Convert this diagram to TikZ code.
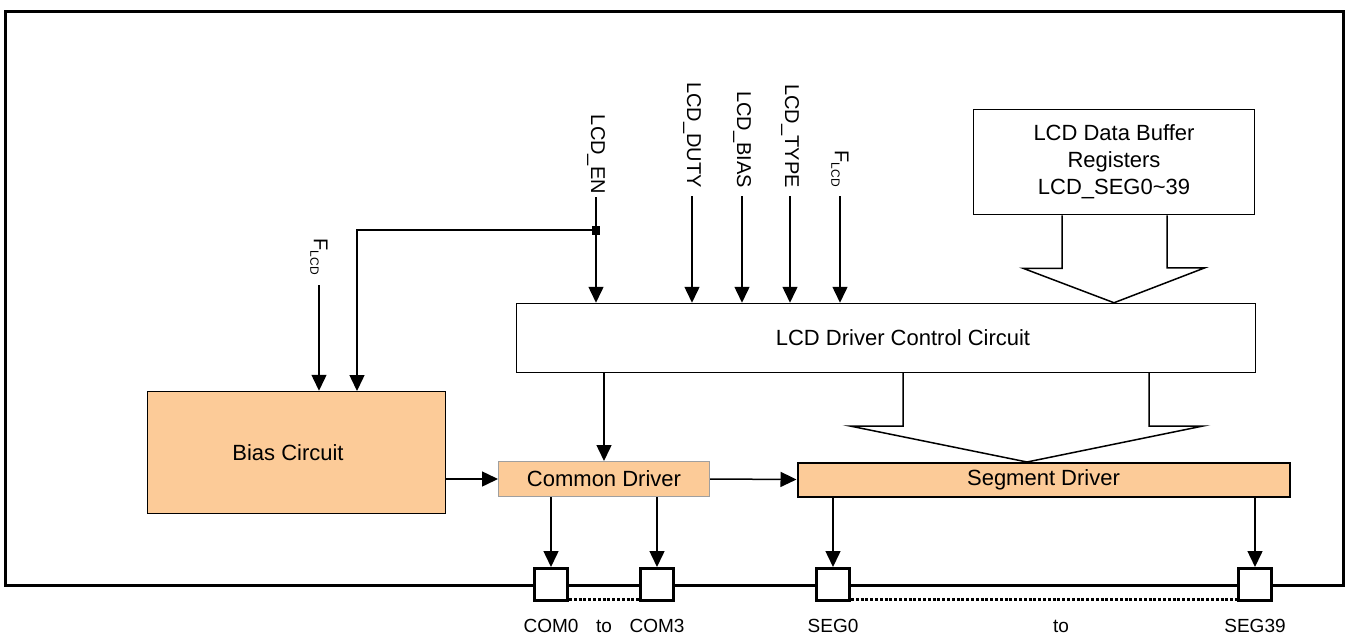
\documentclass[tikz,border=0pt]{standalone}
\usepackage{fontspec}
\setmainfont{Liberation Sans}
\usetikzlibrary{arrows.meta}
\definecolor{boxor}{RGB}{252,203,152}
\begin{document}
\begin{tikzpicture}[x=1pt,y=-1pt,
  box/.style={draw=black,line width=1.5pt,inner sep=0pt,font=\fontsize{22}{27}\selectfont,align=center},
  obox/.style={box,fill=boxor},
  pin/.style={draw=black,line width=3pt,fill=white,minimum width=33pt,minimum height=32pt,inner sep=0pt},
  sig/.style={line width=1.5pt,-{Triangle[width=15pt,length=16pt]}},
  lbl/.style={inner sep=0pt,font=\fontsize{20}{24}\selectfont},
  blbl/.style={inner sep=0pt,anchor=base,font=\fontsize{19}{22}\selectfont},
  vlbl/.style={lbl,rotate=-90,anchor=east},
  hollow/.style={line width=1.5pt,line join=miter},
  dotline/.style={line width=3pt,dash pattern=on 3pt off 1.8pt}
]
\useasboundingbox (0,0) rectangle (1346,634);
% outer frame
\draw[line width=3pt] (5,12) rectangle (1343,585);

% blocks
\node[obox,minimum width=298pt,minimum height=122pt] (bias) at (296.5,452.5) {Bias Circuit\hspace*{17pt}};
\node[box,minimum width=739pt,minimum height=69pt] (ctrl) at (886,338) {\hspace*{34pt}LCD Driver Control Circuit};
\node[box,minimum width=281pt,minimum height=105pt] (buf) at (1114,162) {LCD Data Buffer\\Registers\\LCD\_SEG0\textasciitilde 39};
\node[obox,draw=gray!75,line width=1pt,minimum width=211pt,minimum height=35pt] (com) at (604,479) {Common Driver};
\node[obox,line width=2pt,minimum width=492pt,minimum height=34pt] (seg) at (1043.5,479.5) {Segment Driver};

% pins
\node[pin] (p0) at (551,584.5) {};
\node[pin] (p3) at (656.5,584.5) {};
\node[pin] (s0) at (833,584.5) {};
\node[pin] (s39) at (1255,584.5) {};
\draw[dotline] ([yshift=2.5pt]p0.south east) -- ([yshift=2.5pt]p3.south west);
\draw[dotline] ([yshift=2.5pt]s0.south east) -- ([yshift=2.5pt]s39.south west);

% pin labels
\node[blbl] (lc0) at (551,632) {COM0};
\node[blbl] (lto1) at (604,632) {to};
\node[blbl] (lc3) at (657,632) {COM3};
\node[blbl] (ls0) at (833,632) {SEG0};
\node[blbl] (lto2) at (1061,632) {to};
\node[blbl] (ls39) at (1255,632) {SEG39};

% vertical input labels
\node[vlbl] (len) at (596,194) {LCD\_EN};
\node[vlbl] (ldu) at (692,188) {LCD\_DUTY};
\node[vlbl] (lbi) at (742,188) {LCD\_BIAS};
\node[vlbl] (lty) at (790,188) {LCD\_TYPE};
\node[vlbl] (lf2) at (840,187) {F\raisebox{-3.5pt}{\fontsize{12}{12}\selectfont LCD}};
\node[vlbl] (lf1) at (319,275) {F\raisebox{-3.5pt}{\fontsize{12}{12}\selectfont LCD}};

\coordinate (en0) at (596,197);
\coordinate (du0) at (692,196);
\coordinate (bi0) at (742,196);
\coordinate (ty0) at (790,196);
\coordinate (f20) at (840,196);
\coordinate (f10) at (319,285);

\draw[sig] (en0) -- (en0 |- ctrl.north);
\draw[sig] (du0) -- (du0 |- ctrl.north);
\draw[sig] (bi0) -- (bi0 |- ctrl.north);
\draw[sig] (ty0) -- (ty0 |- ctrl.north);
\draw[sig] (f20) -- (f20 |- ctrl.north);
\draw[sig] (f10) -- (f10 |- bias.north);
\coordinate (jnc) at (596,230);
\coordinate (bten) at (357,391);
\draw[sig] (jnc) -| (bten);
\node[fill=black,minimum width=8pt,minimum height=9pt,inner sep=0pt] (jn) at (jnc) {};

% inner connectors
\coordinate (cc) at (604,373);
\draw[sig] (cc) -- (cc |- com.north);
\draw[sig] (bias.east |- com.west) -- (com.west);
\draw[sig] (com.east) -- (seg.west);
\coordinate (cx0) at (551,497);
\coordinate (cx3) at (657,497);
\coordinate (sx0) at (833,497);
\coordinate (sx39) at (1255,497);
\draw[sig] (cx0) -- (p0.north);
\draw[sig] (cx3) -- (cx3 |- p3.north);
\draw[sig] (sx0) -- (s0.north);
\draw[sig] (sx39) -- (s39.north);

% hollow bus arrows
\draw[hollow] ([xshift=-52pt]buf.south) |- ++(-39,53) -- (buf.south |- ctrl.north) -- ++(91,-35) -- ++(-38,0) -- ([xshift=53pt]buf.south);
\coordinate (b1) at (903,373);
\coordinate (b2) at (1149,373);
\coordinate (btip) at (1027,462);
\draw[hollow] (b1) |- (850,426) -- (btip) -- (1203,426) -| (b2);
\end{tikzpicture}
\end{document}
